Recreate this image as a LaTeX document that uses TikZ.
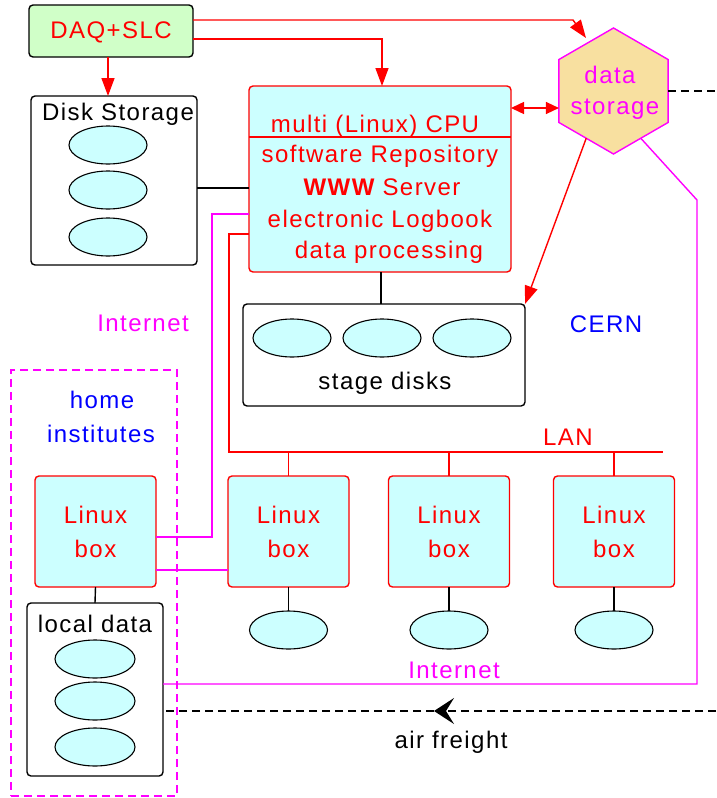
\documentclass[tikz,border=0pt]{standalone}
\usepackage{fontspec}
\setmainfont{Liberation Sans}[LetterSpace=6]
\usetikzlibrary{shapes.geometric,arrows.meta}
\definecolor{cyanf}{RGB}{204,255,255}
\definecolor{greenf}{RGB}{208,255,200}
\definecolor{wheatf}{RGB}{248,224,160}
\definecolor{myred}{RGB}{255,0,0}
\definecolor{mymag}{RGB}{255,0,255}
\definecolor{myblue}{RGB}{0,0,255}
\begin{document}
\begin{tikzpicture}[x=1pt,y=-1pt,
  every node/.style={font=\fontsize{24}{30}\selectfont, inner sep=0pt, outer sep=0pt},
  txt/.style={anchor=base},
  bbox/.style={draw=black, line width=1.4pt, rounded corners=4pt},
  rbox/.style={draw=myred, line width=1.4pt, rounded corners=4pt, fill=cyanf},
  lbox/.style={rbox, minimum width=121pt, minimum height=111pt, align=center, font=\fontsize{24}{34}\selectfont, text=myred},
  dsk/.style={ellipse, draw=black, line width=1.1pt, fill=cyanf, minimum width=78pt, minimum height=38pt},
  rl/.style={draw=myred, line width=1.4pt},
  ml/.style={draw=mymag, line width=1.4pt},
  bl/.style={draw=black, line width=1.4pt},
  arr/.style={-{Triangle[length=18pt,width=13pt]}},
  dsh/.style={dash pattern=on 8pt off 5pt},
]
\useasboundingbox (0,0) rectangle (716,798);
\coordinate (redge) at (716,0);

% home institutes dashed frame
\node[draw=mymag, line width=1.4pt, dsh, minimum width=166pt, minimum height=426pt] (home) at (94,583) {};

% DAQ
\node[bbox, fill=greenf, minimum width=164pt, minimum height=52pt] (daq) at (111,31) {};
\node[txt, text=myred] (tdaq) at (111,38) {DAQ+SLC};

% Disk storage
\node[bbox, fill=white, minimum width=166pt, minimum height=169pt] (disk) at (114,180.5) {};
\node[txt] (tdisk) at (118,120) {Disk Storage};
\node[dsk] (d1) at (108,145) {};
\node[dsk] (d2) at (108,190) {};
\node[dsk] (d3) at (108,237) {};

% CPU
\node[rbox, minimum width=262pt, minimum height=186pt] (cpu) at (380,179) {};
\draw[rl] (cpu.west |- 0,137) -- (cpu.east |- 0,137);
\node[txt, text=myred] (c0) at (375,132) {multi (Linux) CPU};
\node[txt, text=myred] (c1) at (380,162) {software Repository};
\node[txt, text=myred] (c2) at (382,195) {{\bfseries WWW} Server};
\node[txt, text=myred] (c3) at (380,227) {electronic Logbook};
\node[txt, text=myred] (c4) at (389,258) {data processing};

% data storage hexagon
\node[regular polygon, regular polygon sides=6, shape border rotate=30, minimum size=126pt, draw=mymag, fill=wheatf, line width=1.4pt] (hexa) at (613.5,91) {};
\node[txt, text=mymag] (h1) at (610,83) {data};
\node[txt, text=mymag] (h2) at (615,114) {storage};

% stage disks
\node[bbox, fill=white, minimum width=282pt, minimum height=102pt] (stage) at (384,355) {};
\node[dsk] (s1) at (292,338) {};
\node[dsk] (s2) at (382,338) {};
\node[dsk] (s3) at (472,338) {};
\node[txt] (tstage) at (385,389) {stage disks};

% labels
\node[txt, text=myblue] (cern) at (606,332) {CERN};
\node[txt, text=myred] (lan) at (568,445) {LAN};
\node[txt, text=myblue] (thome) at (102,408) {home};
\node[txt, text=myblue] (tinst) at (101,442) {institutes};
\node[txt, text=mymag] (inet1) at (143,331) {Internet};
\node[txt, text=mymag] (inet2) at (454,678) {Internet};
\node[txt] (tair) at (451,748) {air freight};

% Linux boxes
\node[lbox] (hbox) at (95.5,531.5) {Linux\\box};
\node[lbox] (b1) at (288.5,531.5) {Linux\\box};
\node[lbox] (b2) at (449,531.5) {Linux\\box};
\node[lbox] (b3) at (614,531.5) {Linux\\box};
\node[dsk] (e1) at (288.5,630) {};
\node[dsk] (e2) at (449,630) {};
\node[dsk] (e3) at (614,630) {};

% local data
\node[bbox, fill=white, minimum width=136pt, minimum height=173pt] (ldata) at (95,689.5) {};
\node[txt] (tldata) at (95,632) {local data};
\node[dsk, minimum width=80pt] (l1) at (95,659) {};
\node[dsk, minimum width=80pt] (l2) at (95,701) {};
\node[dsk, minimum width=80pt] (l3) at (95,747) {};

% connectors
\coordinate (k1) at (573,20);
\coordinate (k2) at (586,38);
\coordinate (k3) at (697,200);
\coordinate (k4) at (697,684);
\coordinate (lanend) at (663,452);
\coordinate (af) at (434,711);

\draw[rl, arr] (daq.south -| 108,0) -- (disk.north -| 108,0);
\draw[rl, arr] ([yshift=11pt]daq.east) -- (k1) -- (k2);
\draw[rl, arr] ([yshift=-8pt]daq.east) -| ([xshift=2pt]cpu.north);
\draw[rl, {Triangle[length=13pt,width=12pt]}-{Triangle[length=13pt,width=12pt]}] (cpu.east |- 0,108) -- (hexa.west |- 0,108);
\draw[rl, arr] (hexa.240) -- (stage.north east);
\draw[ml] (hexa.300) -- (k3) -- (k4) -- (ldata.east |- k4);
\draw[bl, dsh] (hexa.east) -- (hexa.east -| redge);
\draw[bl] (disk.east |- 0,188) -- (cpu.west |- 0,188);
\draw[ml] (cpu.west |- 0,214) -- (212,214) -- (212,537) -- (hbox.east |- 0,537);
\draw[rl] (cpu.west |- 0,234) -- (229,234) -- (229,452) -- (lanend);
\draw[rl] (b1.north |- lanend) -- (b1.north);
\draw[rl] (b2.north |- lanend) -- (b2.north);
\draw[rl] (b3.north |- lanend) -- (b3.north);
\draw[bl] (cpu.south -| 381,0) -- (stage.north -| 381,0);
\draw[ml] (hbox.east |- 0,570) -- (b1.west |- 0,570);
\draw[bl] (hbox.south) -- (ldata.north);
\draw[bl] (b1.south) -- (e1.north);
\draw[bl] (b2.south) -- (e2.north);
\draw[bl] (b3.south) -- (e3.north);
\draw[bl, dsh, -{Stealth[length=20pt,width=26pt,inset=8pt]}] (redge |- af) -- (af);
\draw[bl, dsh] (af) -- (ldata.east |- af);
\end{tikzpicture}
\end{document}
